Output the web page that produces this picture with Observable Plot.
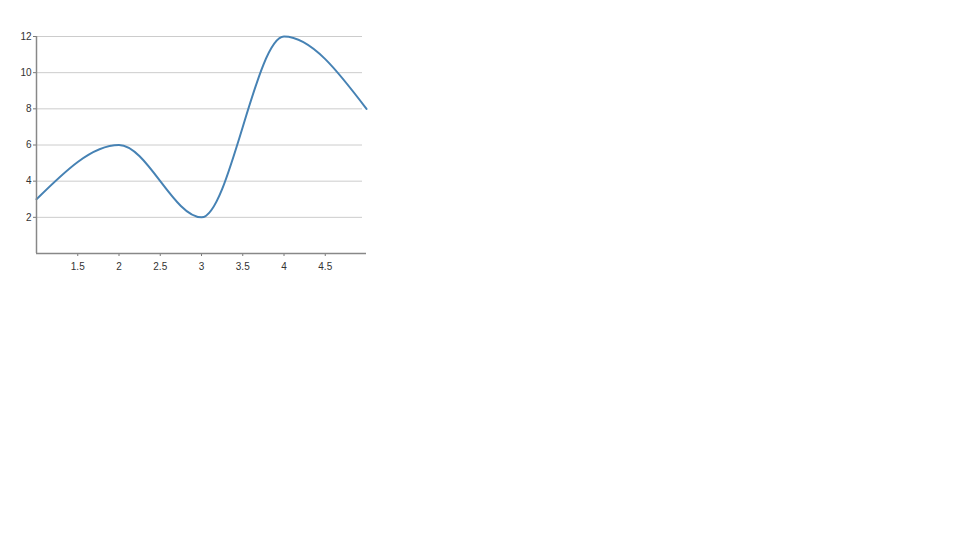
<!DOCTYPE html>
<html>
<head>
<meta charset="utf-8">
<script src="https://cdn.jsdelivr.net/npm/d3@7"></script>
<script src="https://cdn.jsdelivr.net/npm/@observablehq/plot@0.6"></script>
<style>
  html, body { margin: 0; padding: 0; background: #fff; }
  #chart svg { display: block; }
</style>
</head>
<body>
<div id="chart"></div>
<script>
const xValues = [1, 2, 3, 4, 5];
const yValues = [3, 6, 2, 12, 8];
const xTicks = [1.5, 2, 2.5, 3, 3.5, 4, 4.5];
const yTicks = [2, 4, 6, 8, 10, 12];

const data = xValues.map((x, i) => ({x, y: yValues[i]}));

const chart = Plot.plot({
  width: 960,
  height: 540,
  marginLeft: 36,
  marginRight: 594,
  marginTop: 36,
  marginBottom: 287,
  style: {fontFamily: "Liberation Sans, Arial, sans-serif", fontSize: "10px", color: "#333", background: "#fff"},
  x: {domain: [1, 5], ticks: xTicks, tickFormat: d => String(d)},
  y: {domain: [0, 12], ticks: yTicks},
  marks: [
    Plot.gridY(yTicks, {stroke: "#ccc", strokeOpacity: 1, strokeWidth: 1, insetRight: 4}),
    Plot.line(data, {x: "x", y: "y", curve: "monotone-x", stroke: "steelblue", strokeWidth: 2}),
    Plot.axisX(xTicks, {tickSize: 3, tickPadding: 6, stroke: "#777", fill: "#333", tickFormat: d => String(d), label: null}),
    Plot.axisY(yTicks, {tickSize: 3, tickPadding: 2, stroke: "#777", fill: "#333", label: null}),
    Plot.ruleX([1], {stroke: "#888", strokeWidth: 1.5}),
    Plot.ruleY([0], {stroke: "#888", strokeWidth: 1.5})
  ]
});
document.getElementById("chart").appendChild(chart);
</script>
</body>
</html>
